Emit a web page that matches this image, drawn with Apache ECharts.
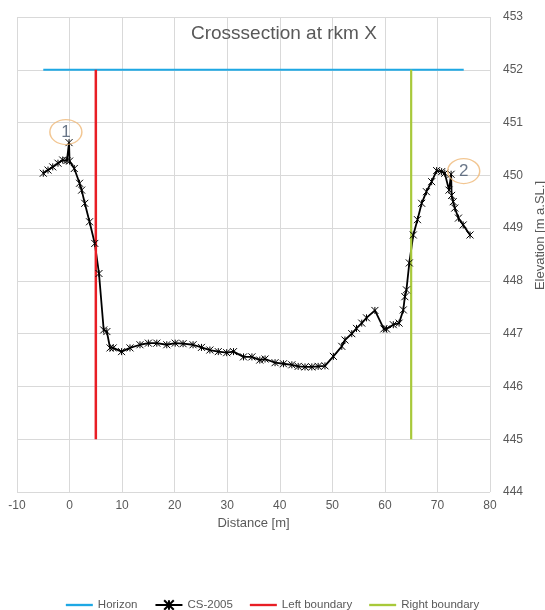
<!DOCTYPE html>
<html>
<head>
<meta charset="utf-8">
<script src="https://cdn.jsdelivr.net/npm/echarts@6/dist/echarts.min.js"></script>
<style>html,body{margin:0;padding:0;background:#fff;}#c{width:545px;height:610px;}</style>
</head>
<body>
<div id="c"></div>
<script>
const xTicks = [-10, 0, 10, 20, 30, 40, 50, 60, 70, 80];
const yTicks = [444, 445, 446, 447, 448, 449, 450, 451, 452, 453];

const csX = [-5.0, -4.1, -3.2, -2.2, -1.3, -0.5, -0.1, 0.0, 0.9, 1.9, 2.3, 2.9, 3.8, 4.8, 5.6, 6.5, 7.1, 7.7, 8.3, 9.9,
  11.5, 13.4, 15.0, 16.6, 18.5, 20.1, 21.6, 23.5, 25.1, 26.7, 28.3, 29.9, 31.2, 33.1, 34.7, 36.2, 37.2, 39.1, 40.7, 42.3,
  43.5, 44.8, 46.1, 47.3, 48.6, 50.2, 51.8, 52.4, 53.7, 54.6, 55.6, 56.5, 58.1, 59.8, 60.3, 61.6, 62.7, 63.5, 63.8, 64.1,
  64.65, 65.4, 66.2, 67.0, 67.9, 68.9, 69.85, 70.8, 71.4, 72.2, 72.6, 72.7, 73.0, 73.3, 74.0, 74.9, 76.2];
const csY = [450.04, 450.1, 450.16, 450.23, 450.29, 450.28, 450.62, 450.27, 450.13, 449.85, 449.72, 449.47, 449.12, 448.71, 448.14, 447.07, 447.04, 446.73, 446.73, 446.66,
  446.73, 446.79, 446.82, 446.82, 446.79, 446.82, 446.81, 446.79, 446.74, 446.69, 446.66, 446.64, 446.66, 446.56, 446.56, 446.5, 446.52, 446.45, 446.43, 446.41,
  446.38, 446.37, 446.37, 446.38, 446.39, 446.57, 446.76, 446.88, 447.0, 447.1, 447.2, 447.3, 447.44, 447.09, 447.09, 447.17, 447.2, 447.45, 447.7, 447.83,
  448.34, 448.87, 449.16, 449.47, 449.69, 449.88, 450.09, 450.07, 450.04, 449.72, 450.02, 449.62, 449.5, 449.38, 449.19, 449.06, 448.87];

const horizonX = [-5, 75];
const horizonY = [452, 452];
const leftX = [5, 5];
const leftY = [445, 452];
const rightX = [65, 65];
const rightY = [445, 452];

const annotX = [-0.7, 75.0];
const annotY = [450.82, 450.08];
const annotLabels = ['1', '2'];

const seriesNames = ['Horizon', 'CS-2005', 'Left boundary', 'Right boundary'];

function zip(a, b) { return a.map((v, i) => [v, b[i]]); }

const gray = '#595959';
const font = 'Liberation Sans, Arial, sans-serif';
const ellipse = 'path://M0 1C0 0.448 0.448 0 1 0C1.552 0 2 0.448 2 1C2 1.552 1.552 2 1 2C0.448 2 0 1.552 0 1Z';
const star = 'path://M0 0L10 10M10 0L0 10M5 0L5 10';
const lineIcon = 'path://M0 0H30V2.6H0Z';

const chart = echarts.init(document.getElementById('c'), null, {renderer: 'canvas'});
chart.setOption({
  animation: false,
  backgroundColor: '#fff',
  textStyle: {fontFamily: font},
  title: {
    text: 'Crosssection at rkm X',
    left: 186, top: 19,
    textStyle: {fontSize: 19, fontWeight: 'normal', color: gray, fontFamily: font}
  },
  grid: {left: 17, right: 55, top: 17, bottom: 118, containLabel: false, outerBoundsMode: 'none'},
  xAxis: {
    type: 'value', min: xTicks[0], max: xTicks[xTicks.length - 1], interval: 10,
    name: 'Distance [m]', nameLocation: 'middle', nameGap: 22,
    nameTextStyle: {fontSize: 13, color: gray, fontFamily: font},
    axisLine: {show: false}, axisTick: {show: false},
    axisLabel: {fontSize: 12, color: gray, margin: 8, fontFamily: font},
    splitLine: {show: true, lineStyle: {color: '#d9d9d9', width: 1}}
  },
  yAxis: {
    type: 'value', position: 'right', min: yTicks[0], max: yTicks[yTicks.length - 1], interval: 1,
    name: 'Elevation [m a.SL.]', nameLocation: 'middle', nameGap: 40,
    nameTextStyle: {fontSize: 13, color: gray, fontFamily: font, padding: [0, 0, 0, 38]},
    axisLine: {show: false}, axisTick: {show: false},
    axisLabel: {fontSize: 12, color: gray, margin: 13, fontFamily: font},
    splitLine: {show: true, lineStyle: {color: '#d9d9d9', width: 1}}
  },
  legend: {
    data: [
      {name: seriesNames[0], icon: lineIcon},
      {name: seriesNames[1]},
      {name: seriesNames[2], icon: lineIcon},
      {name: seriesNames[3], icon: lineIcon}
    ],
    left: 'center', top: 594,
    itemWidth: 27, itemHeight: 12, itemGap: 17,
    textStyle: {fontSize: 11.5, color: gray, fontFamily: font}
  },
  series: [
    {
      name: seriesNames[0], type: 'line', data: zip(horizonX, horizonY), symbol: 'none',
      lineStyle: {color: '#1ea8e4', width: 2}, itemStyle: {color: '#1ea8e4'}
    },
    {
      name: seriesNames[1], type: 'line', data: zip(csX, csY),
      symbol: star, symbolSize: 7, showAllSymbol: true,
      lineStyle: {color: '#000', width: 1.8},
      itemStyle: {color: '#000', borderColor: '#000', borderWidth: 1}
    },
    {
      name: seriesNames[2], type: 'line', data: zip(leftX, leftY), symbol: 'none',
      lineStyle: {color: '#e81e25', width: 2.5}, itemStyle: {color: '#e81e25'}
    },
    {
      name: seriesNames[3], type: 'line', data: zip(rightX, rightY), symbol: 'none',
      lineStyle: {color: '#a8c93a', width: 2.2}, itemStyle: {color: '#a8c93a'}
    },
    {
      name: 'annotations', type: 'scatter', data: zip(annotX, annotY),
      symbol: ellipse, symbolSize: [32, 25], z: 5,
      itemStyle: {color: 'rgba(0,0,0,0)', borderColor: '#efb877', borderWidth: 1.3},
      label: {
        show: true, position: 'inside', fontSize: 17, color: '#44546a', fontFamily: font,
        formatter: p => annotLabels[p.dataIndex]
      },
      silent: true
    }
  ]
});
</script>
</body>
</html>
